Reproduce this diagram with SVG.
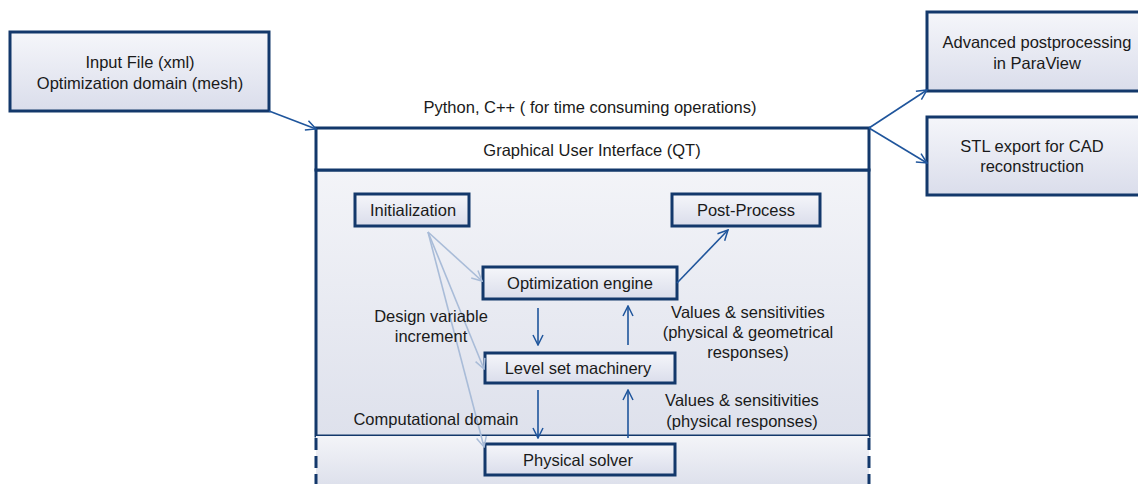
<svg xmlns="http://www.w3.org/2000/svg" width="1138" height="484" viewBox="0 0 1138 484">
<defs>
<linearGradient id="g" x1="0" y1="0" x2="0" y2="1"><stop offset="0" stop-color="#F5F6FA"/><stop offset="1" stop-color="#DADDEB"/></linearGradient>
<linearGradient id="gp" x1="0" y1="0" x2="0" y2="1"><stop offset="0" stop-color="#F3F4F8"/><stop offset="1" stop-color="#DEE1EC"/></linearGradient>
<marker id="a" viewBox="0 0 12 12" refX="11" refY="6" markerWidth="12" markerHeight="12" markerUnits="userSpaceOnUse" orient="auto"><path d="M1,1 L11,6 L1,11" fill="none" stroke="#1F559C" stroke-width="1.5"/></marker>
<marker id="al" viewBox="0 0 12 12" refX="11" refY="6" markerWidth="12" markerHeight="12" markerUnits="userSpaceOnUse" orient="auto"><path d="M1,1 L11,6 L1,11" fill="none" stroke="#A9BCD8" stroke-width="1.5"/></marker>
<style>
.box{fill:url(#g);stroke:#13386B;stroke-width:3}
.t{font-family:"Liberation Sans",Arial,sans-serif;font-size:16.5px;fill:#1a1a1a;text-anchor:middle}
.c{stroke:#1F559C;stroke-width:1.6;fill:none;marker-end:url(#a)}
.cl{stroke:#A9BCD8;stroke-width:1.6;fill:none;marker-end:url(#al)}
</style>
</defs>
<g id="panel">
<rect x="316" y="170" width="553" height="266" fill="url(#gp)" stroke="#13386B" stroke-width="3"/>
<rect x="316" y="436" width="553" height="48" fill="url(#gp)"/>
<path d="M316,438 V484 M869,438 V484" stroke="#13386B" stroke-width="3" stroke-dasharray="12,6"/>
</g>
<g id="gui">
<rect x="316" y="128" width="553" height="42" fill="#fff" stroke="#13386B" stroke-width="3"/>
<text class="t" x="592" y="156">Graphical User Interface (QT)</text>
</g>
<text class="t" x="590" y="113">Python, C++ ( for time consuming operations)</text>
<g id="input">
<rect class="box" x="10" y="32" width="259" height="79"/>
<text class="t" x="140" y="67.5">Input File (xml)</text>
<text class="t" x="140" y="88.5">Optimization domain (mesh)</text>
</g>
<g id="paraview">
<rect class="box" x="927" y="12" width="215" height="79"/>
<text class="t" x="1037" y="48">Advanced postprocessing</text>
<text class="t" x="1037" y="69">in ParaView</text>
</g>
<g id="stl">
<rect class="box" x="927" y="117" width="215" height="78"/>
<text class="t" x="1032" y="152">STL export for CAD</text>
<text class="t" x="1032" y="172">reconstruction</text>
</g>
<g id="init">
<rect class="box" x="355" y="194" width="114" height="32"/>
<text class="t" x="413" y="216">Initialization</text>
</g>
<g id="post">
<rect class="box" x="672" y="194" width="148" height="32"/>
<text class="t" x="746" y="216">Post-Process</text>
</g>
<g id="opt">
<rect class="box" x="483" y="267" width="194" height="32"/>
<text class="t" x="580" y="289">Optimization engine</text>
</g>
<g id="level">
<rect class="box" x="485" y="353" width="190" height="30"/>
<text class="t" x="578" y="374">Level set machinery</text>
</g>
<g id="solver">
<rect class="box" x="485" y="444" width="190" height="31"/>
<text class="t" x="578" y="466">Physical solver</text>
</g>
<g id="connectors">
<path class="c" d="M269,111 L316,129"/>
<path class="c" d="M869,128 L927,90"/>
<path class="c" d="M869,128 L927,163"/>
<path class="c" d="M677,283 L728,230"/>
<path class="c" d="M538,308 L538,345"/>
<path class="c" d="M628,345 L628,306"/>
<path class="c" d="M538,390 L538,438"/>
<path class="c" d="M628,438 L628,390"/>
<path class="cl" d="M428,232 L482,281"/>
<path class="cl" d="M428,232 L484,369"/>
<path class="cl" d="M428,232 L484,447"/>
</g>
<g id="labels">
<text class="t" x="431" y="322">Design variable</text>
<text class="t" x="431" y="342">increment</text>
<text class="t" x="748" y="318">Values &amp; sensitivities</text>
<text class="t" x="748" y="338">(physical &amp; geometrical</text>
<text class="t" x="748" y="358">responses)</text>
<text class="t" x="742" y="406">Values &amp; sensitivities</text>
<text class="t" x="742" y="427">(physical responses)</text>
<text class="t" x="436" y="425">Computational domain</text>
</g>
</svg>
